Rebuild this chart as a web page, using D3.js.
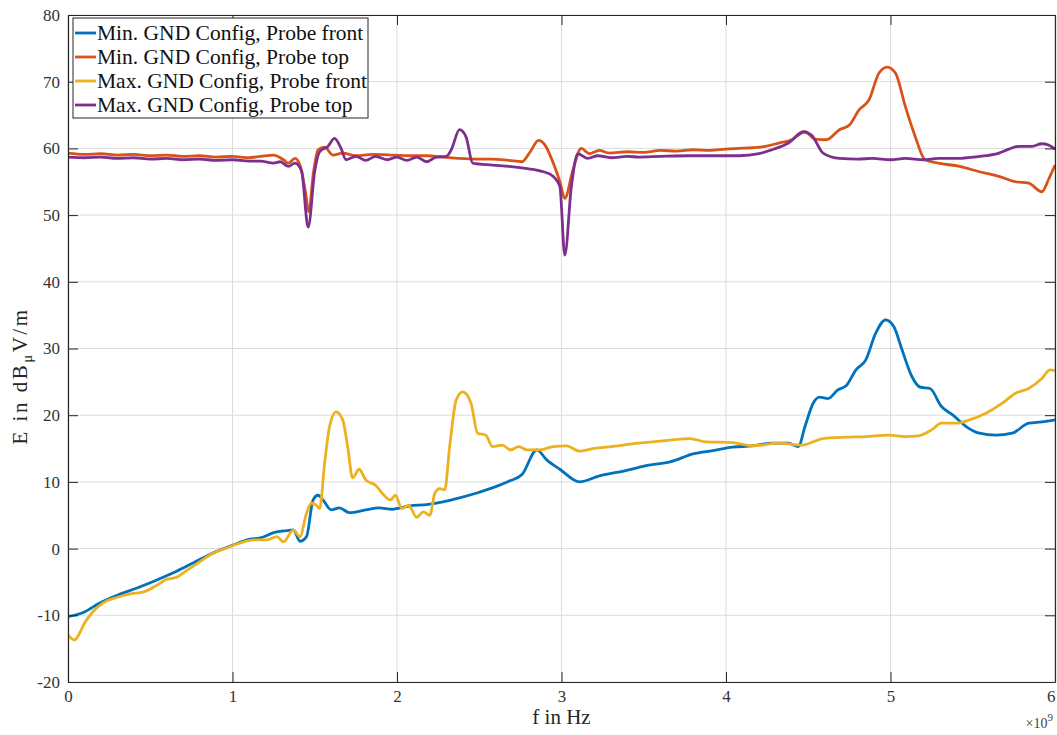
<!DOCTYPE html>
<html><head><meta charset="utf-8">
<script src="https://cdn.jsdelivr.net/npm/d3@7"></script>
<style>
html,body{margin:0;padding:0;background:#fff;}
svg{display:block;}
</style></head>
<body>
<svg id="chart" width="1057" height="735"></svg>
<script>
// ---- data (frequency in GHz, field in dBµV/m) ----
const seriesNames = ["Min. GND Config, Probe front","Min. GND Config, Probe top","Max. GND Config, Probe front","Max. GND Config, Probe top"];
const seriesColors = ["#0072BD","#D95319","#EDB120","#7E2F8E"];
const xTicks = [0,1,2,3,4,5,6];
const yTicks = [-20,-10,0,10,20,30,40,50,60,70,80];

const minFront = [[0,-10.2],[0.10,-9.5],[0.19,-8.2],[0.30,-7.0],[0.42,-5.9],[0.54,-4.7],[0.66,-3.4],[0.78,-1.9],[0.90,-0.45],[1.00,0.5],[1.10,1.4],[1.17,1.6],[1.25,2.4],[1.33,2.7],[1.37,2.8],[1.41,1.1],[1.45,1.8],[1.49,7.3],[1.52,8.0],[1.55,7.3],[1.60,5.8],[1.65,6.1],[1.71,5.4],[1.81,5.8],[1.89,6.1],[1.97,5.9],[2.08,6.4],[2.18,6.6],[2.28,7.0],[2.38,7.6],[2.48,8.3],[2.58,9.1],[2.68,10.1],[2.76,11.1],[2.85,14.8],[2.91,13.3],[2.99,11.9],[3.11,10.0],[3.23,10.9],[3.39,11.7],[3.53,12.5],[3.66,13.0],[3.80,14.2],[3.92,14.7],[4.04,15.2],[4.16,15.4],[4.28,15.8],[4.38,15.8],[4.44,15.3],[4.48,18.3],[4.53,21.8],[4.57,22.7],[4.62,22.5],[4.68,23.8],[4.73,24.4],[4.79,26.8],[4.85,28.3],[4.91,32.3],[4.97,34.3],[5.02,33.3],[5.07,29.8],[5.13,25.8],[5.18,24.2],[5.24,24.0],[5.31,21.3],[5.38,20.0],[5.46,18.3],[5.54,17.3],[5.64,17.0],[5.74,17.3],[5.84,18.8],[5.92,19.0],[6.0,19.3]];

const minTop = [[0,59.3],[0.1,59.1],[0.2,59.2],[0.3,59.0],[0.4,59.1],[0.5,58.9],[0.6,59.0],[0.7,58.8],[0.8,58.9],[0.9,58.7],[1.0,58.8],[1.1,58.6],[1.17,58.8],[1.25,59.0],[1.31,58.3],[1.34,57.8],[1.38,58.5],[1.41,57.5],[1.44,54],[1.465,50.5],[1.49,56],[1.52,59.8],[1.56,60.2],[1.61,59.0],[1.67,59.3],[1.75,58.9],[1.85,59.1],[1.98,59.0],[2.08,58.9],[2.18,58.9],[2.28,58.7],[2.38,58.5],[2.48,58.4],[2.58,58.4],[2.68,58.2],[2.76,58.0],[2.81,59.5],[2.86,61.2],[2.90,60.5],[2.95,57.8],[2.99,55],[3.02,52.5],[3.07,56.8],[3.12,60.0],[3.17,59.2],[3.23,59.7],[3.29,59.3],[3.40,59.5],[3.50,59.4],[3.60,59.7],[3.70,59.6],[3.80,59.8],[3.90,59.7],[4.00,59.9],[4.08,60.0],[4.16,60.1],[4.24,60.3],[4.32,60.8],[4.40,61.3],[4.48,62.5],[4.54,61.4],[4.61,61.3],[4.69,62.8],[4.75,63.5],[4.81,65.8],[4.87,67.3],[4.93,71.3],[4.98,72.2],[5.03,71.3],[5.09,66.3],[5.15,61.8],[5.21,58.3],[5.29,57.8],[5.42,57.3],[5.54,56.5],[5.66,55.8],[5.76,55.0],[5.84,54.8],[5.92,53.5],[5.96,55.3],[6.0,57.5]];

const maxFront = [[0,-13.0],[0.04,-13.7],[0.07,-12.7],[0.10,-11.2],[0.15,-9.5],[0.21,-8.2],[0.30,-7.3],[0.38,-6.8],[0.46,-6.5],[0.54,-5.5],[0.60,-4.6],[0.66,-4.3],[0.72,-3.3],[0.80,-2.0],[0.88,-0.7],[0.96,0.05],[1.04,0.8],[1.13,1.3],[1.21,1.3],[1.27,1.8],[1.31,1.0],[1.37,2.8],[1.41,1.8],[1.45,5.3],[1.48,6.8],[1.51,6.5],[1.53,6.0],[1.56,12.8],[1.59,18.3],[1.63,20.5],[1.67,19.3],[1.70,15.3],[1.73,10.6],[1.77,11.9],[1.81,10.3],[1.87,9.5],[1.91,8.3],[1.96,7.3],[1.99,8.0],[2.03,6.0],[2.07,6.5],[2.12,4.7],[2.16,5.5],[2.20,5.0],[2.23,8.3],[2.26,9.0],[2.29,8.8],[2.32,15.3],[2.36,22.3],[2.40,23.5],[2.45,21.8],[2.49,17.3],[2.54,17.0],[2.58,15.3],[2.64,15.5],[2.69,14.8],[2.74,15.3],[2.79,14.8],[2.87,14.8],[2.95,15.3],[3.03,15.4],[3.11,14.6],[3.19,15.0],[3.27,15.2],[3.47,15.8],[3.63,16.2],[3.78,16.5],[3.88,16.0],[4.04,15.9],[4.16,15.4],[4.32,15.8],[4.46,15.5],[4.59,16.5],[4.73,16.7],[4.85,16.8],[4.99,17.0],[5.09,16.8],[5.17,16.9],[5.25,17.8],[5.31,18.8],[5.40,18.8],[5.48,19.3],[5.58,20.3],[5.68,21.8],[5.76,23.3],[5.84,24.0],[5.92,25.5],[5.97,26.8],[6.0,26.7]];

const maxTop = [[0,58.7],[0.1,58.6],[0.2,58.7],[0.3,58.5],[0.4,58.6],[0.5,58.4],[0.6,58.5],[0.7,58.3],[0.8,58.4],[0.9,58.2],[1.0,58.3],[1.1,58.1],[1.17,58.1],[1.25,57.8],[1.29,58.0],[1.34,57.3],[1.38,57.8],[1.42,56.6],[1.46,48.2],[1.50,56.6],[1.53,59.5],[1.58,60.3],[1.62,61.5],[1.66,60.0],[1.69,58.3],[1.75,58.8],[1.81,58.2],[1.87,58.8],[1.94,58.3],[2.00,58.7],[2.06,58.2],[2.12,58.7],[2.18,58.0],[2.24,58.7],[2.30,58.8],[2.33,59.8],[2.38,62.8],[2.42,61.7],[2.46,57.8],[2.58,57.5],[2.68,57.3],[2.78,57.0],[2.89,56.5],[2.95,55.8],[2.99,54.3],[3.02,44.0],[3.06,54.3],[3.10,59.2],[3.16,58.5],[3.22,58.9],[3.30,58.6],[3.40,58.8],[3.47,58.7],[3.60,58.8],[3.78,58.9],[3.95,58.9],[4.08,58.9],[4.20,59.2],[4.28,59.8],[4.38,60.8],[4.47,62.5],[4.52,62.0],[4.59,59.3],[4.69,58.5],[4.80,58.4],[4.89,58.5],[5.00,58.3],[5.09,58.5],[5.20,58.3],[5.29,58.5],[5.40,58.5],[5.50,58.7],[5.58,58.9],[5.66,59.3],[5.72,59.9],[5.78,60.3],[5.86,60.3],[5.92,60.7],[5.96,60.5],[6.0,59.9]];

const seriesData = [minFront, minTop, maxFront, maxTop];

// ---- layout ----
const L = 68, R = 1055, T = 15, B = 682;
const svg = d3.select("#chart");
const x = d3.scaleLinear().domain([0,6]).range([L,R]);
const y = d3.scaleLinear().domain([-20,80]).range([B,T]);
const axisColor = "#262626";
const serif = "'Liberation Serif','Times New Roman',serif";
const fmt = d => String(d);

// grid
const grid = svg.append("g");
grid.selectAll("line.gx").data(xTicks).join("line")
  .attr("x1",d=>x(d)).attr("x2",d=>x(d)).attr("y1",T).attr("y2",B)
  .attr("stroke","#dcdcdc").attr("stroke-width",1);
grid.selectAll("line.gy").data(yTicks).join("line")
  .attr("y1",d=>y(d)).attr("y2",d=>y(d)).attr("x1",L).attr("x2",R)
  .attr("stroke","#dcdcdc").attr("stroke-width",1);

// lines
const line = d3.line().x(d=>x(d[0])).y(d=>y(d[1])).curve(d3.curveMonotoneX);
svg.append("clipPath").attr("id","clip").append("rect")
  .attr("x",L).attr("y",T).attr("width",R-L).attr("height",B-T);
svg.append("g").attr("clip-path","url(#clip)")
  .selectAll("path").data(seriesData).join("path")
  .attr("d",line).attr("fill","none")
  .attr("stroke",(d,i)=>seriesColors[i]).attr("stroke-width",2.8)
  .attr("stroke-linejoin","round");

// axes
function styleAxis(g, showLabels){
  g.select(".domain").attr("stroke",axisColor).attr("stroke-width",1.2);
  g.selectAll(".tick line").attr("stroke",axisColor).attr("stroke-width",1);
  g.selectAll(".tick text").attr("fill","#333").attr("font-family",serif).attr("font-size",17)
    .style("display", showLabels ? null : "none");
}
const xAxisG = svg.append("g").attr("transform",`translate(0,${B})`)
  .call(d3.axisBottom(x).tickValues(xTicks).tickFormat(fmt).tickSizeInner(-10).tickSizeOuter(0).tickPadding(8))
  .call(g=>styleAxis(g,true));
xAxisG.selectAll(".tick text").filter(d=>d===6).attr("text-anchor","end").attr("dx",0);
svg.append("g").attr("transform",`translate(0,${T})`)
  .call(d3.axisTop(x).tickValues(xTicks).tickSizeInner(-10).tickSizeOuter(0))
  .call(g=>styleAxis(g,false));
svg.append("g").attr("transform",`translate(${L},0)`)
  .call(d3.axisLeft(y).tickValues(yTicks).tickFormat(fmt).tickSizeInner(-10).tickSizeOuter(0).tickPadding(8))
  .call(g=>styleAxis(g,true));
svg.append("g").attr("transform",`translate(${R},0)`)
  .call(d3.axisRight(y).tickValues(yTicks).tickSizeInner(-10).tickSizeOuter(0))
  .call(g=>styleAxis(g,false));

// axis labels
svg.append("text").attr("x",(L+R)/2).attr("y",724).attr("text-anchor","middle")
  .attr("font-family",serif).attr("font-size",21).attr("fill","#262626").text("f in Hz");
const exp = svg.append("text").attr("x",1053).attr("y",728).attr("text-anchor","end")
  .attr("font-family",serif).attr("font-size",14).attr("fill","#444");
exp.append("tspan").text("×10");
exp.append("tspan").attr("dy",-7).attr("font-size",11).text("9");

const yl = svg.append("text").attr("transform",`translate(27,376) rotate(-90)`)
  .attr("text-anchor","middle").attr("font-family",serif).attr("font-size",21).attr("fill","#262626")
  .attr("letter-spacing",2.5);
yl.append("tspan").text("E in dB");
yl.append("tspan").attr("dy",5).attr("font-size",15).text("μ");
yl.append("tspan").attr("dy",-5).text("V/m");

// legend
const lg = svg.append("g");
lg.append("rect").attr("x",73).attr("y",18).attr("width",295).attr("height",100)
  .attr("fill","#fff").attr("stroke","#262626").attr("stroke-width",1);
seriesNames.forEach((n,i)=>{
  const yy = 33 + i*24;
  lg.append("line").attr("x1",75).attr("x2",96).attr("y1",yy).attr("y2",yy)
    .attr("stroke",seriesColors[i]).attr("stroke-width",2.8);
  lg.append("text").attr("x",97).attr("y",yy+7).attr("font-family",serif).attr("font-size",21.5)
    .attr("fill","#111").text(n);
});
</script>
</body></html>
